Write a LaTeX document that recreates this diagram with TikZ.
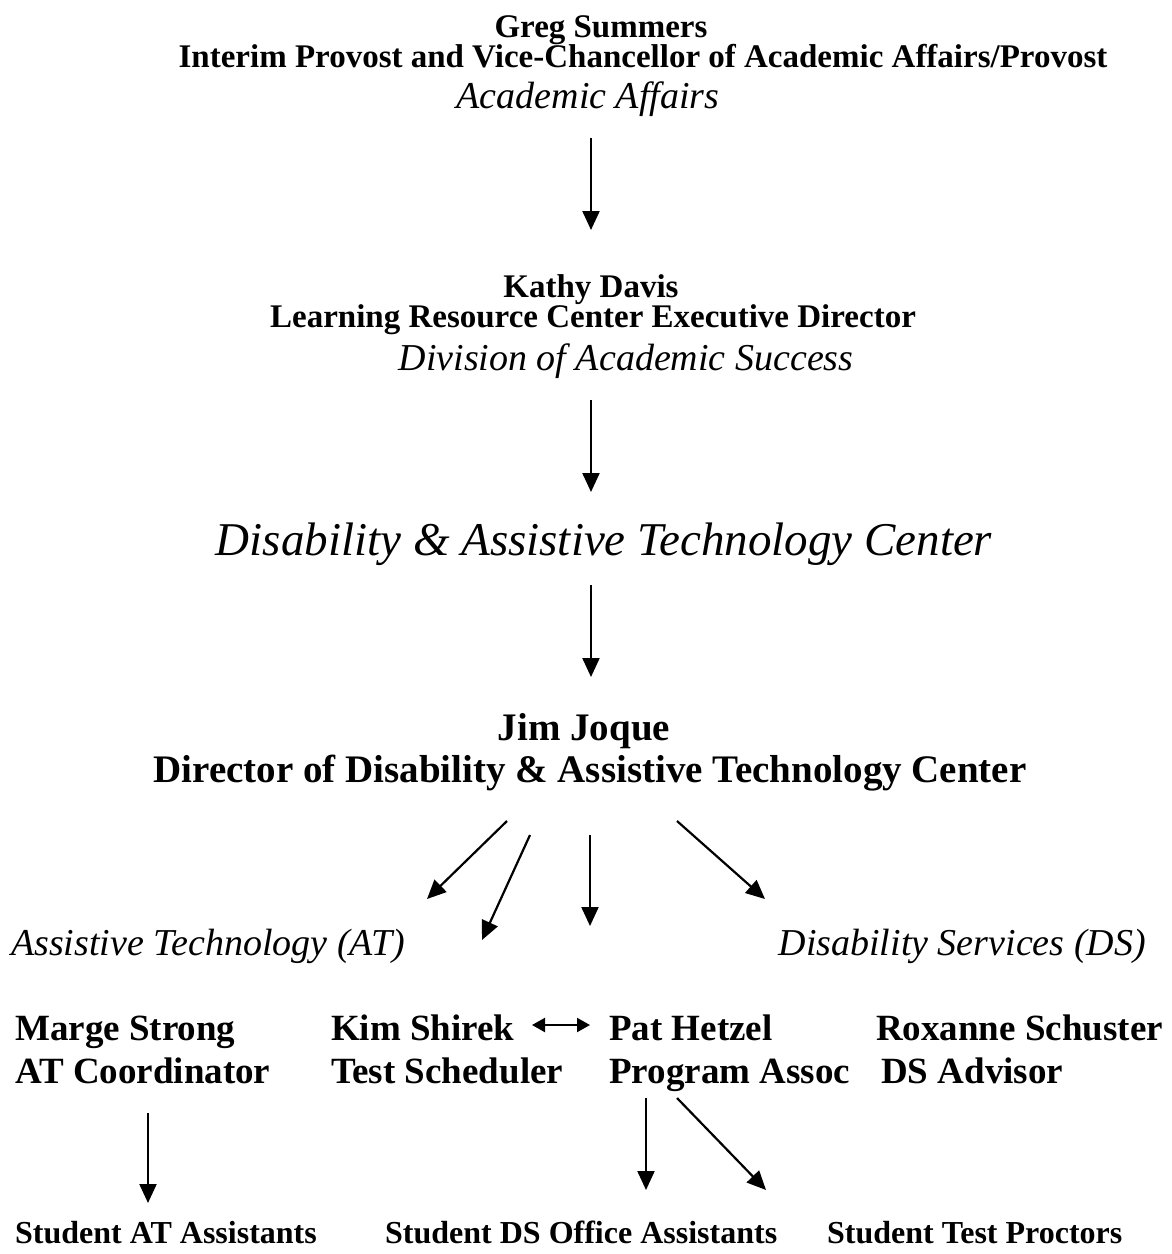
\documentclass[tikz,border=0pt]{standalone}
\usepackage{fontspec}
\setmainfont{Liberation Serif}
\usetikzlibrary{arrows.meta}

\tikzstyle{head} = [font=\fontsize{33}{36}\selectfont\bfseries,inner sep=0pt,anchor=base]
\tikzstyle{unit} = [font=\fontsize{38}{42}\selectfont\itshape,inner sep=0pt,anchor=base]
\tikzstyle{big unit} = [font=\fontsize{47}{50}\selectfont\itshape,inner sep=0pt,anchor=base]
\tikzstyle{boss} = [font=\fontsize{39}{42}\selectfont\bfseries,inner sep=0pt,anchor=base]
\tikzstyle{staff} = [font=\fontsize{37}{42}\selectfont\bfseries,inner sep=0pt,anchor=base west]
\tikzstyle{student} = [font=\fontsize{32}{36}\selectfont\bfseries,inner sep=0pt,anchor=base west]
\tikzstyle{link} = [draw,line width=2.2pt,-{Triangle[length=19pt,width=17pt]}]
\tikzstyle{both link} = [draw,line width=2.2pt,{Triangle[length=13pt,width=14pt]}-{Triangle[length=13pt,width=14pt]}]

\begin{document}
\begin{tikzpicture}[x=1pt,y=-1pt]
			\useasboundingbox (0,0) rectangle (1172,1254);
			% Provost
			\node[head] (gs) at (601,37) {Greg Summers};
			\node[head] (gst) at (643,67) {Interim Provost and Vice-Chancellor of Academic Affairs/Provost};
			\node[unit] (aa) at (588,108) {Academic Affairs};
			% Learning Resource Center
			\node[head] (kd) at (591,297) {Kathy Davis};
			\node[head] (kdt) at (593,327) {Learning Resource Center Executive Director};
			\node[unit] (das) at (626,370) {Division of Academic Success};
			\node[big unit] (datc) at (604,555) {Disability \& Assistive Technology Center};
			% Director
			\node[boss] (jj) at (584,740) {Jim Joque};
			\node[boss] (jjt) at (590,782) {Director of Disability \& Assistive Technology Center};
			\node[unit,anchor=base west] (at) at (11,955) {Assistive Technology (AT)};
			\node[unit,anchor=base east] (dsv) at (1146,955) {Disability Services (DS)};
			% Staff
			\node[staff] (ms) at (15,1040) {Marge Strong};
			\node[staff] (msr) at (15,1083) {AT Coordinator};
			\node[staff] (ks) at (331,1040) {Kim Shirek};
			\node[staff] (ksr) at (331,1083) {Test Scheduler};
			\node[staff] (ph) at (609,1040) {Pat Hetzel};
			\node[staff] (phr) at (609,1083) {Program Assoc};
			\node[staff] (rs) at (876,1040) {Roxanne Schuster};
			\node[staff] (rsr) at (881,1083) {DS Advisor};
			% Students
			\node[student] (sat) at (15,1243) {Student AT Assistants};
			\node[student] (sdo) at (385,1243) {Student DS Office Assistants};
			\node[student] (stp) at (827,1243) {Student Test Proctors};
			% Reporting lines
			\path[link] ([xshift=3pt,yshift=-30pt]aa.base) -- ([yshift=67pt]kd.base);
			\path[link] ([xshift=-35pt,yshift=-30pt]das.base) -- ([xshift=-13pt,yshift=63pt]datc.base);
			\path[link] ([xshift=-13pt,yshift=-30pt]datc.base) -- ([xshift=7pt,yshift=63pt]jj.base);
			\path[link] ([xshift=-83pt,yshift=-39pt]jjt.base) -- ([xshift=416pt,yshift=56pt]at.base west);
			\path[link] ([xshift=-60pt,yshift=-53pt]jjt.base) -- ([xshift=151pt,yshift=100pt]ks.base west);
			\path[link] ([yshift=-53pt]jjt.base) -- ([xshift=-19pt,yshift=114pt]ph.base west);
			\path[link] ([xshift=87pt,yshift=-39pt]jjt.base) -- ([xshift=-381pt,yshift=56pt]dsv.base east);
			\path[both link] ([xshift=201pt,yshift=15pt]ks.base west) -- ([xshift=-19pt,yshift=15pt]ph.base west);
			\path[link] ([xshift=133pt,yshift=-30pt]msr.base west) -- ([xshift=133pt,yshift=40pt]sat.base west);
			\path[link] ([xshift=37pt,yshift=-15pt]phr.base west) -- ([xshift=261pt,yshift=53pt]sdo.base west);
			\path[link] ([xshift=68pt,yshift=-15pt]phr.base west) -- ([xshift=-61pt,yshift=53pt]stp.base west);
\end{tikzpicture}
\end{document}
